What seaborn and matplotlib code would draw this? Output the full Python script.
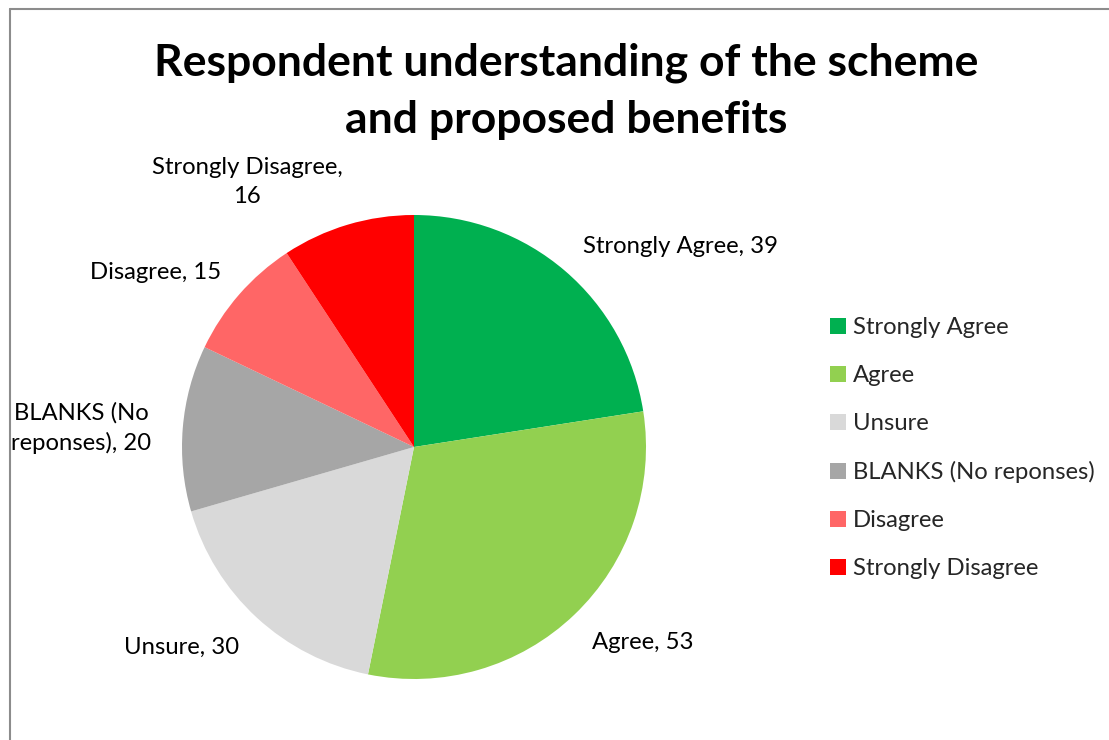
import matplotlib
matplotlib.use("Agg")
import matplotlib.pyplot as plt
import seaborn as sns
from matplotlib.lines import Line2D

categories = ["Strongly Agree", "Agree", "Unsure", "BLANKS (No reponses)", "Disagree", "Strongly Disagree"]
values = [39, 53, 30, 20, 15, 16]
label_texts = ["Strongly Agree, 39", "Agree, 53", "Unsure, 30", "BLANKS (No\nreponses), 20",
               "Disagree, 15", "Strongly Disagree,\n16"]
colors = ["#00B050", "#92D050", "#D9D9D9", "#A6A6A6", "#FF6666", "#FF0000"]
title = "Respondent understanding of the scheme\nand proposed benefits"

sns.set_theme(style="white")
plt.rcParams["font.family"] = ["Lato", "DejaVu Sans"]

W, H = 1109, 740
fig = plt.figure(figsize=(W / 100, H / 100), dpi=100)
fig.patch.set_facecolor("white")

# pie axes: centre at (414, 447) px, radius 232 px
R = 232
half = 1.25 * R
cx, cy = 414, H - 447
ax = fig.add_axes([(cx - half) / W, (cy - half) / H, 2 * half / W, 2 * half / H])
wedges, _ = ax.pie(values, colors=colors, startangle=90, counterclock=False, radius=1.0,
                   wedgeprops=dict(linewidth=0))
ax.set_xlim(-1.25, 1.25)
ax.set_ylim(-1.25, 1.25)
ax.set_aspect("equal")
ax.axis("off")

# label layout (pie units, radius = 1)
label_pos = [(0.728, 0.866, "left"), (0.987, -0.841, "center"), (-1.0, -0.862, "center"),
             (-1.435, 0.082, "center"), (-1.116, 0.754, "center"), (-0.72, 1.142, "center")]
for txt, (x, y, ha) in zip(label_texts, label_pos):
    ax.text(x, y, txt, ha=ha, va="center", fontsize=17.2, color="black",
            linespacing=1.45, clip_on=False)

fig.text(566 / W, 1 - 91 / H, title, ha="center", va="center", fontsize=32,
         fontweight="bold", color="black", linespacing=1.5)

handles = [plt.Rectangle((0, 0), 1, 1, facecolor=c, edgecolor="none") for c in colors]
fig.legend(handles, categories, loc="upper left", bbox_to_anchor=(830 / W, 1 - 317 / H),
           frameon=False, fontsize=17.2, handlelength=0.65, handleheight=0.65,
           handletextpad=0.3, labelspacing=1.13, borderaxespad=0, borderpad=0)

# chart-area border (left and top)
fig.add_artist(Line2D([10 / W, 10 / W], [0, 1 - 9 / H], transform=fig.transFigure,
                      color="#8c8c8c", lw=1.5))
fig.add_artist(Line2D([10 / W, 1], [1 - 9 / H, 1 - 9 / H], transform=fig.transFigure,
                      color="#8c8c8c", lw=1.5))

fig.savefig("out.png", dpi=100, facecolor="white")
